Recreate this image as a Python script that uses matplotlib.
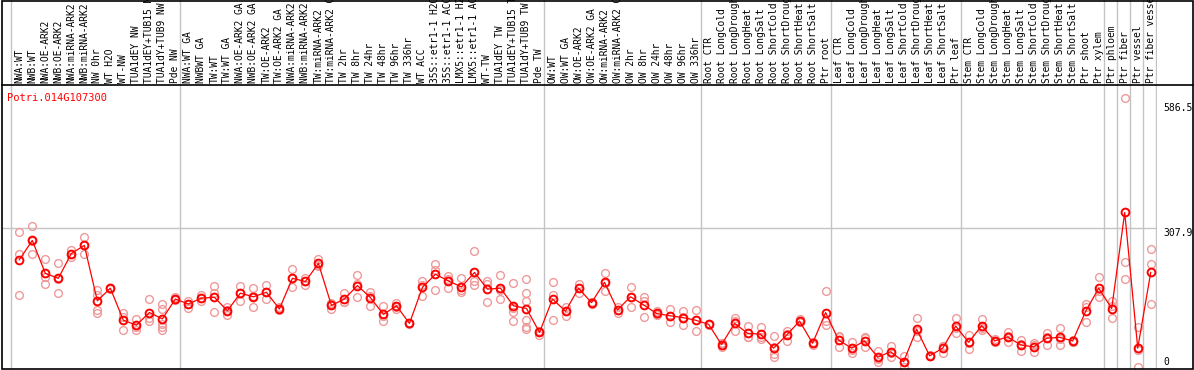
import matplotlib
matplotlib.use("Agg")
import matplotlib.pyplot as plt
from matplotlib.lines import Line2D
from matplotlib.patches import Rectangle

gene = "Potri.014G107300"

samples = [
    "NWA:WT", "NWB:WT", "NWA:OE-ARK2", "NWB:OE-ARK2", "NWA:miRNA-ARK2",
    "NWB:miRNA-ARK2", "NW 0hr", "WT H2O", "WT-NW", "TUA1dEY NW",
    "TUA1dEY+TUB15 NW", "TUA1dY+TUB9 NW", "Pde NW",
    "NWA:WT GA", "NWBWT GA", "TW:WT", "TW:WT GA", "NWA:OE-ARK2 GA",
    "NWB:OE-ARK2 GA", "TW:OE-ARK2", "TW:OE-ARK2 GA", "NWA:miRNA-ARK2 GA",
    "NWB:miRNA-ARK2 GA", "TW:miRNA-ARK2", "TW:miRNA-ARK2 GA", "TW 2hr",
    "TW 8hr", "TW 24hr", "TW 48hr", "TW 96hr", "TW 336hr", "WT ACC",
    "35S::etr1-1 H2O", "35S::etr1-1 ACC", "LMX5::etr1-1 H2O",
    "LMX5::etr1-1 ACC", "WT-TW", "TUA1dEY TW", "TUA1dEY+TUB15 TW",
    "TUA1dY+TUB9 TW", "Pde TW",
    "OW:WT", "OW:WT GA", "OW:OE-ARK2", "OW:OE-ARK2 GA", "OW:miRNA-ARK2",
    "OW:miRNA-ARK2 GA", "OW 2hr", "OW 8hr", "OW 24hr", "OW 48hr", "OW 96hr",
    "OW 336hr",
    "Root CTR", "Root LongCold", "Root LongDrought", "Root LongHeat",
    "Root LongSalt", "Root ShortCold", "Root ShortDrought", "Root ShortHeat",
    "Root ShortSalt", "Ptr root",
    "Leaf CTR", "Leaf LongCold", "Leaf LongDrought", "Leaf LongHeat",
    "Leaf LongSalt", "Leaf ShortCold", "Leaf ShortDrought", "Leaf ShortHeat",
    "Leaf ShortSalt", "Ptr leaf",
    "Stem CTR", "Stem LongCold", "Stem LongDrought", "Stem LongHeat",
    "Stem LongSalt", "Stem ShortCold", "Stem ShortDrought", "Stem ShortHeat",
    "Stem ShortSalt", "Ptr shoot", "Ptr xylem",
    "Ptr phloem", "Ptr fiber", "Ptr vessel", "Ptr fiber vessel",
]

means = [
    238, 281, 208, 197, 252, 270, 147, 175, 104, 93, 121, 107, 151,
    140, 153, 155, 125, 164, 156, 166, 129, 197, 190, 230, 137, 151,
    181, 154, 117, 136, 97, 177, 206, 191, 178, 210, 173, 175, 136,
    130, 77,
    151, 124, 175, 143, 188, 127, 156, 138, 119, 114, 110, 104,
    95, 50, 97, 75, 73, 42, 71, 102, 53, 121,
    60, 42, 58, 22, 34, 12, 84, 25, 42, 91,
    55, 92, 58, 67, 49, 45, 64, 66, 58, 124, 175,
    130, 343, 42, 210,
]

replicates = [
    [300, 251, 161], [313, 252, 279], [239, 199, 184], [232, 164, 196],
    [260, 252, 245], [288, 252, 270], [172, 160, 127, 121], [176, 174, 175],
    [119, 82, 112], [107, 82, 90], [151, 103, 110], [140, 128, 90, 82, 96],
    [155, 148, 150],
    [147, 132, 141], [160, 146, 153], [180, 165, 122], [133, 116, 126],
    [180, 147, 165], [175, 134, 158], [182, 150, 166], [133, 126, 128],
    [217, 177, 197], [197, 182, 190], [240, 227, 224], [143, 130, 140],
    [164, 145, 145], [204, 156, 184], [167, 136, 158], [136, 103, 113],
    [143, 130, 134], [97, 96, 98], [192, 158, 182], [229, 172, 216],
    [202, 176, 195], [197, 166, 172], [257, 191, 182], [190, 144, 185],
    [204, 150, 171], [186, 123, 103, 132], [195, 164, 146, 104, 90, 85],
    [71, 80, 80],
    [188, 160, 104], [134, 113, 125], [184, 165, 176], [145, 140, 144],
    [208, 169, 187], [133, 121, 127], [178, 134, 156], [156, 112, 146],
    [125, 115, 118], [128, 101, 113], [124, 94, 112], [127, 81, 105],
    [96, 94, 95], [45, 53, 53], [108, 80, 103], [91, 67, 67], [90, 62, 67],
    [69, 28, 23, 45], [80, 59, 74], [107, 99, 100], [56, 50, 53],
    [169, 93, 102],
    [67, 44, 69], [56, 31, 39], [66, 44, 64], [36, 12, 18], [47, 23, 32],
    [25, 0, 11], [108, 67, 79], [26, 24, 24], [47, 31, 46], [110, 76, 87],
    [71, 40, 54], [107, 82, 87], [62, 55, 57], [78, 56, 68], [60, 36, 51],
    [53, 34, 48], [76, 50, 66], [86, 49, 63], [60, 56, 58], [139, 101, 133],
    [200, 156, 169],
    [147, 108, 136], [596, 234, 195], [88, 0, 37], [263, 229, 141],
]

group_edges = [-0.5, 12.5, 40.5, 52.5, 62.5, 72.5, 83.5, 84.5, 85.5, 86.5, 87.5]
y_labels = [586.5, 307.9, 0]
grid_y = 307.9

W, H = 1194, 370
fig = plt.figure(figsize=(W / 100, H / 100), dpi=100)


def fx(p):
    return p / W


def fy(p):
    return 1 - p / H


left, right = 1.5, 1157
x0, step = 19.3, 13.005
xlim = ((left - x0) / step, (right - x0) / step)

ax = fig.add_axes([fx(left), fy(369), fx(right) - fx(left), fy(85) - fy(369)])
hd = fig.add_axes([fx(left), fy(85), fx(right) - fx(left), fy(0) - fy(85)])
for a in (ax, hd):
    a.set_xlim(*xlim)
    a.axis("off")
ax.set_ylim(-4.2, 625.8)
hd.set_ylim(0, 1)

mono = "DejaVu Sans Mono"

# group separators
for e in group_edges:
    for a in (ax, hd):
        a.axvline(e - 0.12, color="#c4c4c4", lw=1.0, zorder=1)
ax.axhline(grid_y, color="#c4c4c4", lw=1.0, zorder=1)

# sample labels in header
for i, s in enumerate(samples):
    hd.text(i, 0.025, s, rotation=90, ha="center", va="bottom",
            fontsize=6.9, family=mono, color="black")

# replicates
xs, ys = [], []
for i, reps in enumerate(replicates):
    for r in reps:
        xs.append(i)
        ys.append(r)
ax.plot(xs, ys, "o", ms=5.6, mfc="none", mec="#ee9a9a", mew=1.0, zorder=2,
        clip_on=True)

# means
idx = list(range(len(means)))
ax.plot(idx, means, "-", color="red", lw=0.9, zorder=3)
ax.plot(idx, means, "o", ms=5.6, mfc="none", mec="red", mew=1.4, zorder=4)

# right-hand scale labels
for v in y_labels:
    ax.text(88.0, v, f"{v:g}", ha="left", va="top" if v > 0 else "bottom",
            fontsize=7, family=mono, clip_on=False)

ax.text(-0.95, 598, gene, color="red", fontsize=7.5, family=mono,
        ha="left", va="center")

# frame and header separator
fig.add_artist(Rectangle((fx(1.5), fy(369)), fx(1192.5) - fx(1.5),
                         fy(0.5) - fy(369), transform=fig.transFigure,
                         fill=False, ec="black", lw=1.2))
fig.add_artist(Line2D([fx(1.5), fx(1192.5)], [fy(85), fy(85)],
                      transform=fig.transFigure, color="black", lw=1.2))

fig.savefig("out.png", dpi=100)
